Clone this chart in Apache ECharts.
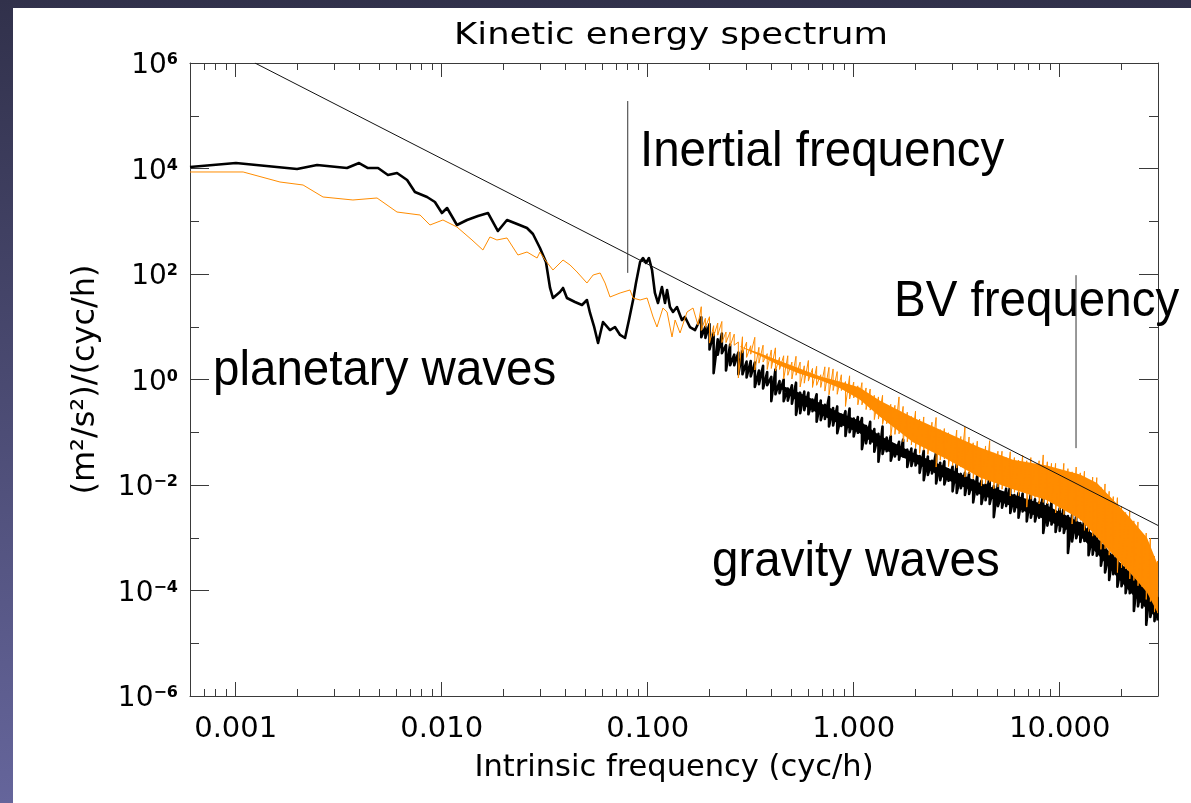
<!DOCTYPE html>
<html>
<head>
<meta charset="utf-8">
<title>Kinetic energy spectrum</title>
<script src="https://cdn.jsdelivr.net/npm/echarts@6/dist/echarts.min.js"></script>
<style>
  html, body { margin: 0; padding: 0; }
  body {
    width: 1191px; height: 803px; overflow: hidden; position: relative;
    background: linear-gradient(to bottom, #31314b, #65659b);
  }
  #sheet { position: absolute; left: 13px; top: 8px; right: 0; bottom: 0; background: #fff; }
  #chart { position: absolute; left: 0; top: 0; width: 1191px; height: 803px; }
</style>
</head>
<body>
<div id="sheet"></div>
<div id="chart"></div>
<script>
// all spectra values are stored as log10: frequency in cyc/h, energy in (m2/s2)/(cyc/h)

// smooth low-frequency part, black (total) spectrum
const blackLowLgF = [-3.222,-2.999,-2.702,-2.605,-2.460,-2.401,-2.358,-2.309,-2.261,-2.217,-2.168,-2.130,-2.071,-2.033,-1.999,-1.974,-1.926,-1.877,-1.824,-1.775,-1.727,-1.683,-1.634,-1.586,-1.557,-1.523,-1.494,-1.474,-1.460,-1.426,-1.411,-1.392,-1.353,-1.319,-1.295,-1.280,-1.261,-1.241,-1.217,-1.183,-1.159,-1.134,-1.110,-1.091,-1.071,-1.057,-1.037,-1.023,-1.008,-0.994,-0.979,-0.965,-0.950,-0.931,-0.916,-0.906,-0.892,-0.877,-0.858,-0.834,-0.819,-0.795,-0.770];
const blackLowLgE = [4.028,4.104,3.990,4.066,4.009,4.104,4.009,4.009,3.877,3.915,3.782,3.554,3.460,3.365,3.156,3.251,2.929,3.024,3.100,3.156,2.815,3.024,2.948,2.872,2.758,2.493,2.228,1.735,1.545,1.659,1.735,1.545,1.469,1.412,1.507,1.261,1.014,0.692,1.090,0.938,0.995,0.844,0.787,1.128,1.507,1.829,2.228,2.303,2.209,2.303,2.076,1.640,1.450,1.754,1.450,1.697,1.374,1.280,1.374,1.128,1.185,0.995,0.938];

// smooth low-frequency part, orange spectrum
const orangeLowLgF = [-3.222,-2.964,-2.785,-2.673,-2.576,-2.431,-2.314,-2.217,-2.105,-2.057,-1.994,-1.926,-1.853,-1.800,-1.766,-1.732,-1.683,-1.630,-1.586,-1.537,-1.523,-1.498,-1.460,-1.411,-1.377,-1.343,-1.295,-1.265,-1.231,-1.207,-1.183,-1.134,-1.086,-1.071,-1.037,-1.003,-0.974,-0.955,-0.926,-0.906,-0.882,-0.867,-0.843,-0.809,-0.780,-0.756];
const orangeLowLgE = [3.934,3.934,3.744,3.687,3.460,3.403,3.441,3.175,3.118,2.929,3.024,2.891,2.645,2.455,2.702,2.645,2.683,2.360,2.417,2.303,2.417,2.265,2.076,2.265,2.171,2.038,1.829,1.981,2.019,1.829,1.564,1.640,1.697,1.545,1.507,1.545,1.185,0.995,1.355,1.280,0.806,1.128,0.882,1.280,1.355,1.033];

// noisy high-frequency part: upper and lower excursions at each frequency
const noiseLgF = [-0.74,-0.72,-0.70,-0.68,-0.66,-0.64,-0.62,-0.60,-0.58,-0.56,-0.54,-0.52,-0.50,-0.48,-0.46,-0.44,-0.42,-0.40,-0.38,-0.36,-0.34,-0.32,-0.30,-0.28,-0.26,-0.24,-0.22,-0.20,-0.18,-0.16,-0.14,-0.12,-0.10,-0.08,-0.06,-0.04,-0.02,0.00,0.02,0.04,0.06,0.08,0.10,0.12,0.14,0.16,0.18,0.20,0.22,0.24,0.26,0.28,0.30,0.32,0.34,0.36,0.38,0.40,0.42,0.44,0.46,0.48,0.50,0.52,0.54,0.56,0.58,0.60,0.62,0.64,0.66,0.68,0.70,0.72,0.74,0.76,0.78,0.80,0.82,0.84,0.86,0.88,0.90,0.92,0.94,0.96,0.98,1.00,1.02,1.04,1.06,1.08,1.10,1.12,1.14,1.16,1.18,1.20,1.22,1.24,1.26,1.28,1.30,1.32,1.34,1.36,1.38,1.40,1.42,1.44,1.46,1.475];
const blackHi = [1.18,1.00,1.05,0.88,0.76,0.87,0.65,0.66,0.47,0.51,0.54,0.34,0.35,0.32,0.17,0.26,0.14,0.05,0.19,-0.03,0.00,-0.17,-0.11,-0.06,-0.25,-0.23,-0.25,-0.38,-0.28,-0.40,-0.48,-0.33,-0.54,-0.51,-0.67,-0.60,-0.55,-0.74,-0.71,-0.73,-0.88,-0.80,-0.94,-1.03,-0.89,-1.10,-1.07,-1.24,-1.18,-1.14,-1.33,-1.31,-1.33,-1.45,-1.35,-1.46,-1.54,-1.38,-1.58,-1.55,-1.71,-1.65,-1.61,-1.79,-1.77,-1.78,-1.91,-1.81,-1.92,-1.99,-1.83,-2.02,-1.98,-2.14,-2.07,-2.01,-2.19,-2.15,-2.16,-2.28,-2.16,-2.27,-2.33,-2.17,-2.36,-2.33,-2.50,-2.44,-2.40,-2.59,-2.57,-2.59,-2.72,-2.65,-2.81,-2.92,-2.80,-3.05,-3.07,-3.29,-3.27,-3.27,-3.50,-3.52,-3.58,-3.75,-3.69,-3.85,-3.97,-3.88,-4.14,-4.14];
const blackLo = [0.80,0.79,0.57,0.12,0.47,0.50,0.17,0.27,0.27,0.10,0.10,0.04,0.06,-0.14,-0.09,-0.17,-0.11,-0.41,-0.28,-0.26,-0.41,-0.40,-0.46,-0.67,-0.64,-0.58,-0.66,-0.60,-0.80,-0.77,-0.75,-0.89,-0.87,-1.02,-0.88,-1.07,-1.00,-1.08,-1.01,-1.32,-1.21,-1.21,-1.37,-1.56,-1.41,-1.36,-1.54,-1.46,-1.52,-1.46,-1.66,-1.64,-1.63,-1.77,-1.91,-1.81,-1.78,-1.97,-1.91,-1.99,-1.92,-2.12,-2.15,-2.06,-2.19,-2.17,-2.33,-2.18,-2.36,-2.29,-2.36,-2.61,-2.40,-2.43,-2.40,-2.53,-2.50,-2.62,-2.50,-2.69,-2.62,-2.69,-2.62,-2.91,-2.77,-2.75,-2.89,-2.87,-2.91,-3.29,-3.07,-3.01,-3.08,-3.06,-3.33,-3.32,-3.34,-3.53,-3.66,-3.80,-3.69,-3.93,-3.92,-4.05,-4.05,-4.39,-4.30,-4.32,-4.65,-4.50,-4.58,-4.57];
const orangeHi = [1.38,1.16,1.19,1.02,1.07,1.10,0.90,0.90,0.86,0.71,0.81,0.71,0.64,0.80,0.61,0.65,0.49,0.56,0.60,0.42,0.45,0.45,0.33,0.44,0.33,0.26,0.36,0.21,0.25,0.09,0.24,0.23,0.20,0.15,0.09,-0.04,0.07,-0.05,-0.12,-0.06,-0.16,-0.18,-0.30,-0.33,-0.30,-0.50,-0.47,-0.49,-0.33,-0.51,-0.62,-0.70,-0.60,-0.75,-0.71,-0.88,-0.81,-0.72,-0.95,-0.93,-1.01,-1.07,-0.96,-1.08,-0.90,-1.09,-1.20,-1.17,-1.33,-1.26,-1.16,-1.39,-1.36,-1.36,-1.48,-1.37,-1.48,-1.53,-1.44,-1.54,-1.48,-1.62,-1.54,-1.43,-1.56,-1.59,-1.59,-1.71,-1.59,-1.69,-1.75,-1.66,-1.77,-1.74,-1.91,-1.85,-1.86,-2.04,-1.98,-2.12,-2.22,-2.24,-2.40,-2.52,-2.49,-2.68,-2.70,-2.92,-2.91,-3.01,-3.35,-3.44];
const orangeLo = [0.93,0.99,0.69,0.82,0.84,0.70,0.70,0.63,0.65,0.03,0.50,0.42,0.48,0.18,0.31,0.33,0.19,0.21,0.16,0.19,0.01,0.08,0.01,0.08,-0.14,-0.07,-0.03,-0.15,-0.11,-0.15,-0.22,-0.29,-0.21,-0.28,-0.21,-0.51,-0.37,-0.35,-0.48,-0.48,-0.57,-0.58,-0.76,-0.75,-0.85,-0.84,-1.07,-1.04,-1.03,-1.18,-1.18,-1.24,-1.30,-1.40,-1.34,-1.42,-1.36,-1.66,-1.53,-1.51,-1.65,-1.63,-1.68,-1.66,-1.85,-1.79,-1.88,-1.82,-2.02,-1.98,-1.95,-2.07,-2.04,-2.08,-2.04,-2.21,-2.14,-2.20,-2.13,-2.42,-2.27,-2.24,-2.36,-2.33,-2.36,-2.34,-2.53,-2.48,-2.56,-2.51,-2.74,-2.69,-2.67,-2.86,-2.88,-2.97,-2.99,-3.22,-3.21,-3.33,-3.31,-3.66,-3.57,-3.59,-3.78,-3.81,-3.91,-3.93,-4.17,-4.21,-4.41,-4.43];

// dense core of each noisy band (where the trace looks solid)
const orangeCoreLgF = [-0.552,-0.455,-0.358,-0.262,-0.165,-0.068,0.029,0.126,0.288,0.453,0.613,0.773,0.938,1.099,1.181,1.259,1.341,1.424,1.475];
const orangeCoreTop = [0.63,0.50,0.35,0.21,0.06,-0.04,-0.15,-0.40,-0.72,-1.01,-1.29,-1.52,-1.63,-1.80,-1.96,-2.28,-2.62,-3.00,-3.50];
const orangeCoreBottom = [0.62,0.45,0.26,0.11,-0.01,-0.16,-0.38,-0.70,-1.19,-1.51,-1.86,-2.08,-2.29,-2.65,-2.99,-3.32,-3.66,-4.04,-4.42];
const blackCoreLgF = [-0.358,-0.262,-0.165,-0.068,0.029,0.126,0.288,0.453,0.613,0.773,0.938,1.099,1.181,1.259,1.341,1.424,1.475];
const blackCoreTop = [-0.10,-0.25,-0.44,-0.63,-0.78,-1.06,-1.39,-1.67,-1.96,-2.18,-2.39,-2.71,-3.00,-3.34,-3.66,-4.00,-4.24];
const blackCoreBottom = [-0.16,-0.45,-0.66,-0.85,-1.02,-1.30,-1.56,-1.90,-2.18,-2.41,-2.67,-2.97,-3.30,-3.66,-4.03,-4.36,-4.53];

// reference f^-2 line (end points) and the two marked frequencies
const slopeLine = [[0.00124, 1e6], [30, 1.71e-3]];
const inertialFreq = 0.08;
const inertialSpan = [1.9e5, 105];
const bvFreq = 12.0;
const bvSpan = [95, 0.05];

// axis ranges
const freqMin = 0.0006, freqMax = 30;
const yExpMin = -6, yExpMax = 6;

const pow10 = (v) => Math.pow(10, v);

function buildSpectrum(lowF, lowE, hi, lo) {
  const pts = lowF.map((f, i) => [pow10(f), pow10(lowE[i])]);
  noiseLgF.forEach((f, i) => {
    pts.push([pow10(f), pow10(hi[i])]);
    pts.push([pow10(f), pow10(lo[i])]);
  });
  return pts;
}

const blackData = buildSpectrum(blackLowLgF, blackLowLgE, blackHi, blackLo);
const orangeData = buildSpectrum(orangeLowLgF, orangeLowLgE, orangeHi, orangeLo);

const axisColor = '#3a3a3a';
const idlFont = 'DejaVu Sans';
const slideFont = 'Liberation Sans';

function expLabel(v) {
  if (v % 2 !== 0) return '';
  const e = v < 0 ? '\u2212' + (-v) : String(v);
  return '{b|10}{e|' + e + '}';
}

function xAxisBase(pos) {
  return {
    type: 'log',
    min: freqMin,
    max: freqMax,
    position: pos,
    axisLine: { onZero: false, lineStyle: { color: axisColor, width: 1 } },
    axisTick: { inside: true, length: 14, lineStyle: { color: axisColor, width: 1 } },
    minorTick: { show: true, splitNumber: 9, length: 7, lineStyle: { color: axisColor, width: 1 } },
    splitLine: { show: false },
    minorSplitLine: { show: false }
  };
}

function yAxisBase(pos) {
  return {
    type: 'value',
    min: yExpMin,
    max: yExpMax,
    interval: 2,
    position: pos,
    axisLine: { show: true, onZero: false, lineStyle: { color: axisColor, width: 1 } },
    axisTick: { show: true, inside: true, length: 19, lineStyle: { color: axisColor, width: 1 } },
    minorTick: { show: true, splitNumber: 2, length: 9, lineStyle: { color: axisColor, width: 1 } },
    splitLine: { show: false },
    minorSplitLine: { show: false }
  };
}

const xBottom = xAxisBase('bottom');
xBottom.axisLabel = {
  formatter: (v) => Number(v).toFixed(3),
  fontFamily: idlFont, fontSize: 29, color: '#000', margin: 19,
  showMinLabel: false, showMaxLabel: false
};
xBottom.name = 'Intrinsic frequency (cyc/h)';
xBottom.nameLocation = 'middle';
xBottom.nameGap = 57;
xBottom.nameTextStyle = { fontFamily: idlFont, fontSize: 30.5, color: '#000' };

const xTop = xAxisBase('top');
xTop.axisLabel = { show: false };

const yLeft = yAxisBase('left');
yLeft.axisLabel = {
  formatter: expLabel,
  margin: 12,
  padding: [6, 0, 0, 0],
  rich: {
    b: { fontFamily: idlFont, fontSize: 28, color: '#000', lineHeight: 28 },
    e: { fontFamily: idlFont, fontSize: 16, color: '#000', fontWeight: 'bold', lineHeight: 16, verticalAlign: 'top' }
  }
};
yLeft.name = '(m\u00b2/s\u00b2)/(cyc/h)';
yLeft.nameLocation = 'middle';
yLeft.nameGap = 88;
yLeft.nameTextStyle = { fontFamily: idlFont, fontSize: 32, color: '#000' };

const yRight = yAxisBase('right');
yRight.axisLabel = { show: false };

function slideText(text, x, baseline) {
  return {
    type: 'text', x: x, y: baseline - 16, scaleX: 0.95, silent: true, z: 10,
    style: { text: text, fontFamily: slideFont, fontSize: 50, fill: '#000', align: 'left', verticalAlign: 'middle' }
  };
}

// solid core of a noisy band, between its top and bottom edges
function bandSeries(name, lgF, top, bottom, color, z) {
  return {
    type: 'custom', name: name, silent: true, z: z, animation: false,
    xAxisIndex: 0, yAxisIndex: 0,
    data: [[pow10(lgF[0]), pow10(top[0])]],
    renderItem: function (params, api) {
      const pts = [];
      for (let i = 0; i < lgF.length; i++) pts.push(api.coord([pow10(lgF[i]), pow10(top[i])]));
      for (let i = lgF.length - 1; i >= 0; i--) pts.push(api.coord([pow10(lgF[i]), pow10(bottom[i])]));
      return { type: 'polygon', shape: { points: pts }, style: { fill: color } };
    }
  };
}

const lineBase = { type: 'line', showSymbol: false, symbol: 'none', silent: true, animation: false,
  xAxisIndex: 0, yAxisIndex: 0, emphasis: { disabled: true } };

const option = {
  animation: false,
  backgroundColor: 'transparent',
  grid: { left: 190, right: 33, top: 63, bottom: 107, containLabel: false, outerBoundsMode: 'none' },
  tooltip: { show: false },
  xAxis: [xBottom, xTop],
  yAxis: [
    { type: 'log', min: 1e-6, max: 1e6, show: false },
    yLeft,
    yRight
  ],
  series: [
    bandSeries('total band', blackCoreLgF, blackCoreTop, blackCoreBottom, '#000', 2),
    Object.assign({}, lineBase, { name: 'total', data: blackData, z: 2,
      lineStyle: { color: '#000', width: 2.6, join: 'round' } }),
    bandSeries('orange band', orangeCoreLgF, orangeCoreTop, orangeCoreBottom, '#ff8c00', 3),
    Object.assign({}, lineBase, { name: 'orange', data: orangeData, z: 3,
      lineStyle: { color: '#ff8c00', width: 1 } }),
    Object.assign({}, lineBase, { name: 'slope', data: slopeLine, z: 4,
      lineStyle: { color: '#111', width: 1 } }),
    Object.assign({}, lineBase, { name: 'inertial', z: 4,
      data: [[inertialFreq, inertialSpan[0]], [inertialFreq, inertialSpan[1]]],
      lineStyle: { color: '#333', width: 1 } }),
    Object.assign({}, lineBase, { name: 'bv', z: 4,
      data: [[bvFreq, bvSpan[0]], [bvFreq, bvSpan[1]]],
      lineStyle: { color: '#333', width: 1 } })
  ],
  graphic: [
    { type: 'text', x: 671, y: 36, scaleX: 1.18, silent: true,
      style: { text: 'Kinetic energy spectrum', fontFamily: idlFont, fontSize: 30, fill: '#000',
        align: 'center', verticalAlign: 'middle' } },
    slideText('Inertial frequency', 640, 168),
    slideText('BV frequency', 894, 318),
    slideText('planetary waves', 213, 387),
    slideText('gravity waves', 712, 578)
  ]
};

const chart = echarts.init(document.getElementById('chart'), null, { renderer: 'canvas' });
chart.setOption(option);
</script>
</body>
</html>
